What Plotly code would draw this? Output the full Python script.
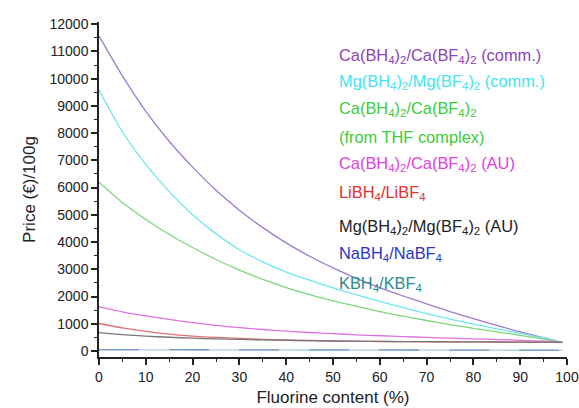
import plotly.graph_objects as go

fluorine = [0, 5, 10, 15, 20, 25, 30, 35, 40, 45, 50, 55, 60, 65, 70, 75, 80, 85, 90, 95, 99]

ca_comm = [11570, 10100, 8800, 7700, 6750, 5900, 5170, 4530, 3970, 3480, 3050, 2670, 2330, 2020, 1730, 1450, 1190, 940, 700, 490, 310]
mg_comm = [9580, 8050, 6850, 5850, 5000, 4300, 3720, 3270, 2900, 2600, 2320, 2060, 1820, 1590, 1370, 1170, 990, 815, 650, 480, 320]
ca_thf = [6200, 5450, 4830, 4280, 3800, 3360, 2970, 2630, 2330, 2070, 1840, 1640, 1450, 1280, 1120, 970, 835, 700, 570, 440, 320]
ca_au = [1620, 1440, 1290, 1160, 1040, 940, 860, 790, 730, 680, 635, 595, 560, 530, 500, 470, 445, 420, 390, 360, 330]
li = [1010, 850, 720, 620, 550, 500, 462, 430, 405, 385, 368, 357, 350, 345, 340, 336, 333, 330, 327, 324, 320]
mg_au = [675, 600, 545, 505, 470, 445, 424, 406, 391, 379, 368, 360, 353, 347, 342, 338, 334, 330, 327, 324, 320]
na = [50, 50, 49, 48, 47, 46, 45, 44, 43, 42, 41, 40, 39, 38, 37, 36, 35, 34, 33, 32, 30]
k = [45, 45, 44, 43, 42, 41, 40, 39, 38, 37, 36, 35, 34, 33, 32, 31, 30, 29, 28, 27, 25]

labels = [
    "Ca(BH<sub>4</sub>)<sub>2</sub>/Ca(BF<sub>4</sub>)<sub>2</sub> (comm.)",
    "Mg(BH<sub>4</sub>)<sub>2</sub>/Mg(BF<sub>4</sub>)<sub>2</sub> (comm.)",
    "Ca(BH<sub>4</sub>)<sub>2</sub>/Ca(BF<sub>4</sub>)<sub>2</sub>",
    "(from THF complex)",
    "Ca(BH<sub>4</sub>)<sub>2</sub>/Ca(BF<sub>4</sub>)<sub>2</sub> (AU)",
    "LiBH<sub>4</sub>/LiBF<sub>4</sub>",
    "Mg(BH<sub>4</sub>)<sub>2</sub>/Mg(BF<sub>4</sub>)<sub>2</sub> (AU)",
    "NaBH<sub>4</sub>/NaBF<sub>4</sub>",
    "KBH<sub>4</sub>/KBF<sub>4</sub>",
]
label_colors = ["#8a44b8", "#44e4f0", "#3ccc3c", "#3ccc3c", "#e040e0", "#e03030", "#222222", "#2a34c8", "#2a8a8a"]
label_y = [10850, 9860, 8880, 7840, 6880, 5820, 4540, 3560, 2470]

series = [
    (ca_comm, "#a07ad0", None),
    (mg_comm, "#6ee8f0", None),
    (ca_thf, "#7ad87a", None),
    (ca_au, "#e070e0", None),
    (li, "#e07070", None),
    (mg_au, "#777777", None),
    (k, "#a8d4dc", None),
    (na, "#7896c4", "40px,30px"),
]

fig = go.Figure()
for ys, col, dash in series:
    fig.add_trace(go.Scatter(x=fluorine, y=ys, mode="lines",
                             line=dict(color=col, width=1.3, dash=dash, shape="spline", smoothing=0.8),
                             showlegend=False, hoverinfo="skip"))

for txt, col, yv in zip(labels, label_colors, label_y):
    fig.add_annotation(x=50.9, y=yv, xref="x", yref="y", text=txt, showarrow=False,
                       xanchor="left", yanchor="middle",
                       font=dict(family="Liberation Sans, Arial", size=16.4, color=col))

fig.update_layout(
    width=579, height=408,
    margin=dict(l=99, r=12, t=22, b=51),
    paper_bgcolor="white", plot_bgcolor="white",
    font=dict(family="Liberation Sans, Arial", color="#222222"),
)
fig.update_xaxes(range=[0, 100], tickvals=list(range(0, 101, 10)), automargin=False,
                 showline=True, linecolor="#222222", linewidth=1.5,
                 ticks="outside", ticklen=6, tickwidth=1.5, tickcolor="#222222",
                 minor=dict(dtick=5, ticks="outside", ticklen=3, tickwidth=1.2, tickcolor="#222222"),
                 showgrid=False, zeroline=False,
                 tickfont=dict(size=14),
                 title=dict(text="Fluorine content (%)", font=dict(size=17), standoff=8))
fig.update_yaxes(range=[-220, 12080], tickvals=list(range(0, 12001, 1000)), tickformat="d",
                 automargin=False,
                 showline=True, linecolor="#222222", linewidth=1.5,
                 ticks="outside", ticklen=6, tickwidth=1.5, tickcolor="#222222",
                 minor=dict(dtick=500, ticks="outside", ticklen=3, tickwidth=1.2, tickcolor="#222222"),
                 showgrid=False, zeroline=False,
                 tickfont=dict(size=14),
                 title=dict(text="Price (€)/100g", font=dict(size=17), standoff=10))

fig.write_html("out.html")
